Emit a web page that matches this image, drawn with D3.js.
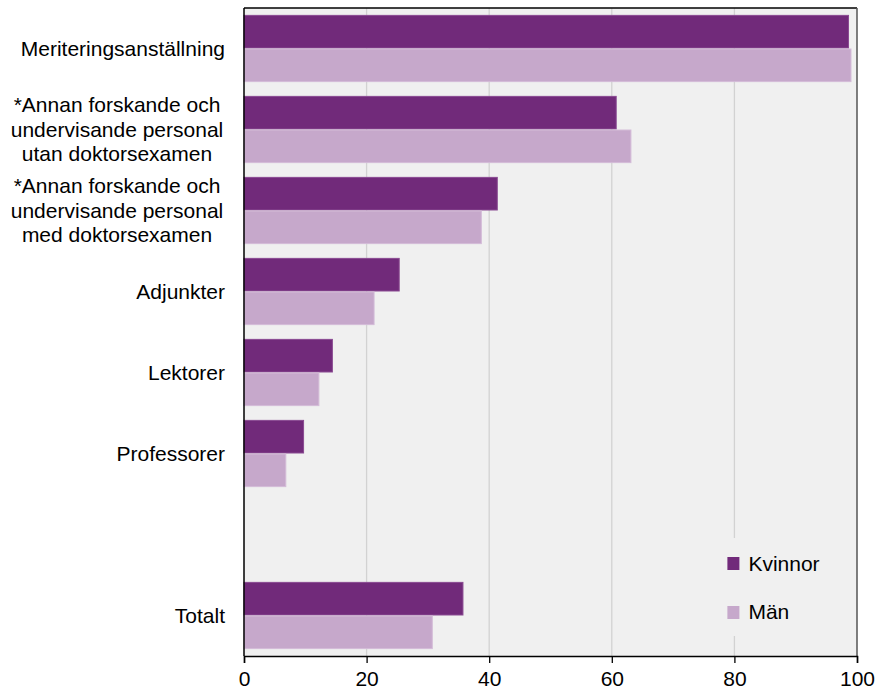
<!DOCTYPE html>
<html>
<head>
<meta charset="utf-8">
<script src="https://cdn.jsdelivr.net/npm/d3@7"></script>
<style>
  body { margin: 0; background: #fff; }
  text { font-family: "Liberation Sans", Arial, sans-serif; fill: #000; }
</style>
</head>
<body>
<div id="chart"></div>
<script>
// categories top to bottom, "" is the empty gap row
var categories = [
  "Meriteringsanställning",
  "*Annan forskande och|undervisande personal|utan doktorsexamen",
  "*Annan forskande och|undervisande personal|med doktorsexamen",
  "Adjunkter",
  "Lektorer",
  "Professorer",
  "",
  "Totalt"
];
var kvinnor = [98.7, 60.8, 41.4, 25.4, 14.5, 9.8, null, 35.8];
var man     = [99.1, 63.2, 38.8, 21.3, 12.3, 6.9, null, 30.8];
var xTicks = [0, 20, 40, 60, 80, 100];
var seriesNames = ["Kvinnor", "Män"];
var colors = ["#712a7a", "#c6a8cb"];
var strokes = ["#8a4a92", "#d4bcd8"];

var margin = { top: 8, right: 24, bottom: 35, left: 244 },
    width = 881 - margin.left - margin.right,
    height = 691 - margin.top - margin.bottom;
var fontSize = "21px";

var svg = d3.select("#chart")
  .append("svg")
  .attr("width", 881)
  .attr("height", 691)
  .append("g")
  .attr("transform", "translate(" + margin.left + "," + margin.top + ")");

var x = d3.scaleLinear().domain([0, 100]).range([0, width]);
var y = d3.scaleBand()
  .domain(categories.map(function(d, i) { return i; }))
  .range([0, height])
  .paddingInner(0.17)
  .paddingOuter(0.085);

// plot background
svg.append("rect")
  .attr("width", width).attr("height", height)
  .attr("fill", "#f0f0f0");

// gridlines
svg.selectAll(".grid")
  .data(xTicks.slice(1, -1))
  .enter().append("line")
  .attr("x1", d => x(d)).attr("x2", d => x(d))
  .attr("y1", 0).attr("y2", height)
  .attr("stroke", "#d2d2d2").attr("stroke-width", 1.3);

// bars
var rows = categories.map(function(c, i) {
  return { i: i, vals: [kvinnor[i], man[i]] };
}).filter(function(r) { return r.vals[0] != null; });

var half = y.bandwidth() / 2;
rows.forEach(function(r) {
  r.vals.forEach(function(v, s) {
    svg.append("rect")
      .attr("x", x(0))
      .attr("y", y(r.i) + s * half + 0.5)
      .attr("width", x(v) - x(0) - 0.5)
      .attr("height", half - 1)
      .attr("fill", colors[s])
      .attr("stroke", strokes[s])
      .attr("stroke-width", 1);
  });
});

// category labels
categories.forEach(function(c, i) {
  if (!c) return;
  var lines = c.split("|");
  var lh = 24.5;
  var cy = y(i) + y.bandwidth() / 2;
  var t = svg.append("text")
    .style("font-size", fontSize);
  lines.forEach(function(l, k) {
    t.append("tspan")
      .attr("x", lines.length > 1 ? -(margin.left - 117) : -19)
      .attr("text-anchor", lines.length > 1 ? "middle" : "end")
      .attr("y", cy + (k - (lines.length - 1) / 2) * lh + 7)
      .text(l);
  });
});

// legend
var lg = svg.append("g").attr("transform", "translate(" + (x(80) - 10) + "," + (height - 118) + ")");
lg.append("rect").attr("width", 110).attr("height", 98).attr("fill", "#f0f0f0");
seriesNames.forEach(function(n, s) {
  lg.append("rect")
    .attr("x", 3).attr("y", 19 + s * 49)
    .attr("width", 12).attr("height", 13)
    .attr("fill", colors[s]);
  lg.append("text")
    .attr("x", 24).attr("y", 33 + s * 48)
    .style("font-size", fontSize)
    .text(n);
});

// frame: top and right
svg.append("line").attr("x1", 0).attr("x2", width).attr("y1", 0).attr("y2", 0)
  .attr("stroke", "#000").attr("stroke-width", 1.5);
svg.append("line").attr("x1", width).attr("x2", width).attr("y1", 0).attr("y2", height)
  .attr("stroke", "#555").attr("stroke-width", 1.5);
// left axis line
svg.append("line").attr("x1", 0).attr("x2", 0).attr("y1", 0).attr("y2", height)
  .attr("stroke", "#000").attr("stroke-width", 1.5);

// bottom axis
var xAxis = svg.append("g")
  .attr("transform", "translate(0," + height + ")")
  .call(d3.axisBottom(x).tickValues(xTicks).tickSize(7).tickPadding(8));
xAxis.select(".domain").attr("stroke", "#000").attr("stroke-width", 1.5);
xAxis.selectAll(".tick line").attr("stroke", "#000").attr("stroke-width", 1.3);
xAxis.selectAll("text").style("font-size", fontSize).attr("fill", "#000");
</script>
</body>
</html>
